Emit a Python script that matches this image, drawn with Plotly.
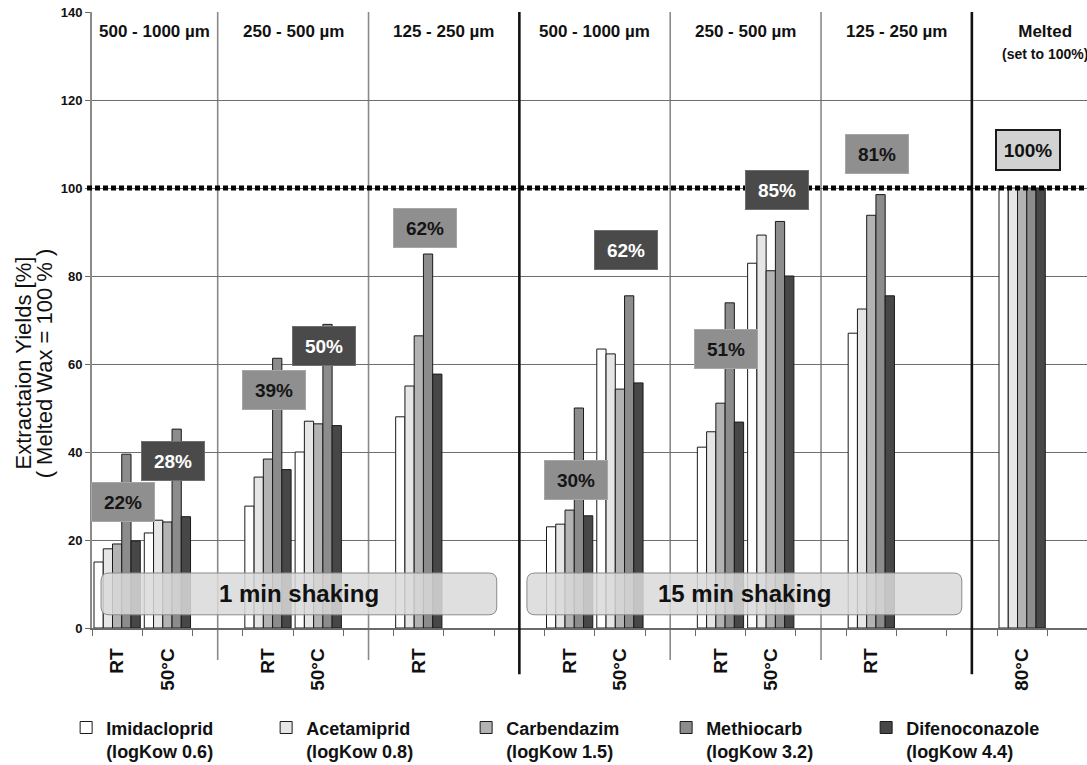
import plotly.graph_objects as go

# ---------------- data ----------------
slot_labels = ["RT", "50°C", "", "RT", "50°C", "", "RT", "", "",
               "RT", "50°C", "", "RT", "50°C", "", "RT", "", "", "80°C", ""]

series_names = ["Imidacloprid<br>(logKow 0.6)", "Acetamiprid<br>(logKow 0.8)",
                "Carbendazim<br>(logKow 1.5)", "Methiocarb<br>(logKow 3.2)",
                "Difenoconazole<br>(logKow 4.4)"]

imidacloprid = [15.0, 21.6, None, 27.7, 40.0, None, 48.0, None, None,
                23.0, 63.4, None, 41.1, 82.9, None, 67.0, None, None, 100, None]
acetamiprid = [18.0, 24.5, None, 34.3, 47.0, None, 55.0, None, None,
               23.6, 62.3, None, 44.6, 89.3, None, 72.5, None, None, 100, None]
carbendazim = [19.1, 24.1, None, 38.4, 46.4, None, 66.4, None, None,
               26.8, 54.3, None, 51.1, 81.2, None, 93.8, None, None, 100, None]
methiocarb = [39.5, 45.2, None, 61.3, 69.0, None, 85.0, None, None,
              50.0, 75.5, None, 73.9, 92.4, None, 98.5, None, None, 100, None]
difenoconazole = [19.8, 25.3, None, 36.0, 46.0, None, 57.7, None, None,
                  25.5, 55.7, None, 46.8, 80.0, None, 75.5, None, None, 100, None]

bar_colors = ["#ffffff", "#e6e6e6", "#b3b3b3", "#8c8c8c", "#474747"]

# group headers and separators (slot index of separator, style)
header_texts = ["500 - 1000 µm", "250 - 500 µm", "125 - 250 µm",
                "500 - 1000 µm", "250 - 500 µm", "125 - 250 µm",
                "Melted<br><span style='font-size:14px'>(set to 100%)</span>"]
separators = [(2, "thin"), (5, "thin"), (8, "thick"), (11, "thin"),
              (14, "thin"), (17, "thick")]

# summary percentage boxes
box_slots = [0, 1, 3, 4, 6, 9, 10, 12, 13, 15, 18]
box_texts = ["22%", "28%", "39%", "50%", "62%", "30%", "62%", "51%", "85%", "81%", "100%"]
box_levels = [28.6, 38.0, 54.0, 64.0, 91.0, 33.6, 86.0, 63.4, 99.5, 107.7, 108.6]
box_styles = ["mid", "dark", "mid", "dark", "mid", "mid", "dark", "mid", "dark", "mid", "light"]

shaking_texts = ["1 min shaking", "15 min shaking"]
shaking_x = [(-0.32, 7.55), (8.15, 16.8)]
shaking_y = (3.0, 12.5)

reference_level = 100
y_ticks = [0, 20, 40, 60, 80, 100, 120, 140]
y_title_lines = ["Extractaion Yields [%]", "( Melted Wax = 100 % )"]

# ---------------- figure ----------------
FONT = "Liberation Sans, Arial, sans-serif"
xs = list(range(len(slot_labels)))

fig = go.Figure()
for name, vals, col in zip(series_names,
                           [imidacloprid, acetamiprid, carbendazim, methiocarb, difenoconazole],
                           bar_colors):
    fig.add_bar(x=xs, y=vals, name=name,
                marker=dict(color=col, line=dict(color="#1a1a1a", width=1)))

shapes = []
for idx, style in separators:
    if style == "thin":
        shapes.append(dict(type="line", xref="x", yref="paper", x0=idx, x1=idx,
                           y0=-0.052, y1=1, line=dict(color="#8a8a8a", width=1.6),
                           layer="below"))
    else:
        shapes.append(dict(type="line", xref="x", yref="paper", x0=idx, x1=idx,
                           y0=-0.075, y1=1, line=dict(color="#111111", width=2.6),
                           layer="above"))
shapes.append(dict(type="line", xref="paper", yref="y", x0=-0.005, x1=1,
                   y0=reference_level, y1=reference_level,
                   line=dict(color="#000000", width=5, dash="5px,3px"), layer="above"))

annotations = []
rx, ry = 0.16, 1.8
y0, y1 = shaking_y
for txt, (x0, x1) in zip(shaking_texts, shaking_x):
    path = (f"M {x0+rx},{y0} L {x1-rx},{y0} Q {x1},{y0} {x1},{y0+ry} "
            f"L {x1},{y1-ry} Q {x1},{y1} {x1-rx},{y1} L {x0+rx},{y1} "
            f"Q {x0},{y1} {x0},{y1-ry} L {x0},{y0+ry} Q {x0},{y0} {x0+rx},{y0} Z")
    shapes.append(dict(type="path", xref="x", yref="y", path=path,
                       fillcolor="rgba(218,218,218,0.86)",
                       line=dict(color="#8a8a8a", width=1), layer="above"))
    annotations.append(dict(x=(x0 + x1) / 2, y=(y0 + y1) / 2, xref="x", yref="y",
                            text=txt, showarrow=False,
                            font=dict(family=FONT, size=24, color="#111", weight="bold")))

bounds = [-0.5] + [s for s, _ in separators] + [19.9]
for i, txt in enumerate(header_texts):
    cx = (bounds[i] + bounds[i + 1]) / 2
    annotations.append(dict(x=cx, y=0.987, xref="x", yref="paper", yanchor="top",
                            text=txt, showarrow=False,
                            font=dict(family=FONT, size=17, color="#111", weight="bold")))

style_map = {
    "mid": dict(bg="#8f8f8f", border="#a6a6a6", fc="#151515", bw=1),
    "dark": dict(bg="#4a4a4a", border="#6e6e6e", fc="#ffffff", bw=1),
    "light": dict(bg="#d2d2d2", border="#1a1a1a", fc="#111111", bw=2),
}
for sl, txt, lv, st in zip(box_slots, box_texts, box_levels, box_styles):
    s = style_map[st]
    annotations.append(dict(x=sl, y=lv, xref="x", yref="y", text=txt, showarrow=False,
                            xshift=6, width=58, height=34, borderpad=2,
                            bgcolor=s["bg"], bordercolor=s["border"], borderwidth=s["bw"],
                            font=dict(family=FONT, size=19, color=s["fc"], weight="bold")))

# y-axis title (two lines, rotated)
for txt, xp in zip(y_title_lines, [-0.069, -0.048]):
    annotations.append(dict(x=xp, y=0.43, xref="paper", yref="paper", text=txt,
                            textangle=-90, showarrow=False, xanchor="center",
                            yanchor="middle",
                            font=dict(family=FONT, size=22, color="#111")))

fig.update_layout(
    template="none",
    width=1087, height=765,
    margin=dict(l=92, r=0, t=12, b=137, autoexpand=False),
    paper_bgcolor="white", plot_bgcolor="white",
    barmode="group", bargap=0.08, bargroupgap=0,
    shapes=shapes, annotations=annotations,
    showlegend=True,
    legend=dict(orientation="h", x=-0.026, y=-0.132, xanchor="left", yanchor="top",
                entrywidth=155, entrywidthmode="pixels", valign="top",
                font=dict(family=FONT, size=18, color="#111", weight="bold"),
                bgcolor="rgba(0,0,0,0)", traceorder="normal"),
    xaxis=dict(range=[-0.5, 19.29], tickmode="array", tickvals=xs, ticktext=slot_labels,
               tickangle=-90, ticks="outside", ticklen=11, tickcolor="rgba(0,0,0,0)",
               tickfont=dict(family=FONT, size=19, color="#111", weight="bold"),
               showgrid=False, zeroline=False, showline=True, linecolor="#6a6a6a",
               linewidth=1.5, automargin=False,
               minor=dict(tickmode="array", tickvals=[i - 0.5 for i in range(len(xs) + 1)],
                          ticks="outside", ticklen=6, tickcolor="#6a6a6a", tickwidth=1,
                          showgrid=False)),
    yaxis=dict(range=[0, 140], tickmode="array", tickvals=y_ticks,
               ticks="outside", ticklen=5, tickcolor="#6a6a6a",
               tickfont=dict(family=FONT, size=13, color="#111", weight="bold"),
               showgrid=True, gridcolor="#6e6e6e", gridwidth=1,
               zeroline=False, showline=True, linecolor="#8a8a8a", linewidth=2,
               automargin=False),
)

fig.write_html("out.html")
